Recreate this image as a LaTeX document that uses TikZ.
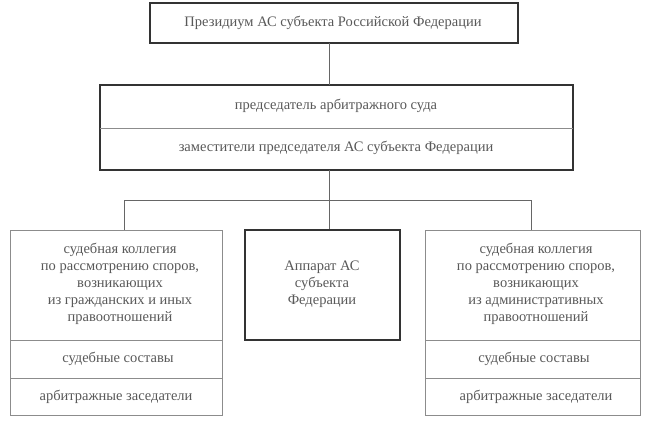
\documentclass[tikz,border=0pt]{standalone}
\usepackage{fontspec}
\setmainfont{Liberation Serif}
\begin{document}
\begin{tikzpicture}[x=1pt,y=-1pt,
 thick/.style={draw=black!80,line width=1.6pt},
 thin/.style={draw=black!45,line width=0.6pt},
 txt/.style={text=black!65,font=\fontsize{14.5}{17}\selectfont,align=center},
 conn/.style={draw=black!60,line width=0.6pt}]
\useasboundingbox[fill=white] (0,0) rectangle (650,426);
% top
\draw[thick] (150,3) rectangle (518,43);
\node[txt] (pres) at (333,23) {Президиум АС субъекта Российской Федерации};
% middle
\draw[thick] (100,85) rectangle (573,170);
\draw[thin] (100,128) -- (573,128);
\node[txt] (chair) at (336,106) {председатель арбитражного суда};
\node[txt] (dep) at (336,148) {заместители председателя АС субъекта Федерации};
\coordinate (topb) at (329,43);
\coordinate (midt) at (329,85);
\coordinate (midb) at (329,170);
\draw[conn] (topb) -- (midt);
\coordinate (hl) at (124,200);
\coordinate (hr) at (531,200);
\coordinate (hc) at (329,200);
\coordinate (lt) at (124,230);
\coordinate (ct) at (329,230);
\coordinate (rt) at (531,230);
\draw[conn] (midb) -- (hc);
\draw[conn] (hl) -- (hr);
\draw[conn] (hl) -- (lt);
\draw[conn] (hc) -- (ct);
\draw[conn] (hr) -- (rt);
% left
\draw[thin] (10,230) rectangle (222,415);
\draw[thin] (10,340) -- (222,340);
\draw[thin] (10,378) -- (222,378);
\node[txt] (lc) at (120,284) {судебная коллегия\\по рассмотрению споров,\\возникающих\\из гражданских и иных\\правоотношений};
\node[txt] (ls) at (118,359) {судебные составы};
\node[txt] (la) at (116,397) {арбитражные заседатели};
% center
\draw[thick] (245,230) rectangle (400,340);
\node[txt] (ap) at (322,284) {Аппарат АС\\субъекта\\Федерации};
% right
\draw[thin] (425,230) rectangle (640,415);
\draw[thin] (425,340) -- (640,340);
\draw[thin] (425,378) -- (640,378);
\node[txt] (rc) at (536,284) {судебная коллегия\\по рассмотрению споров,\\возникающих\\из административных\\правоотношений};
\node[txt] (rs) at (534,359) {судебные составы};
\node[txt] (ra) at (536,397) {арбитражные заседатели};
\end{tikzpicture}
\end{document}
